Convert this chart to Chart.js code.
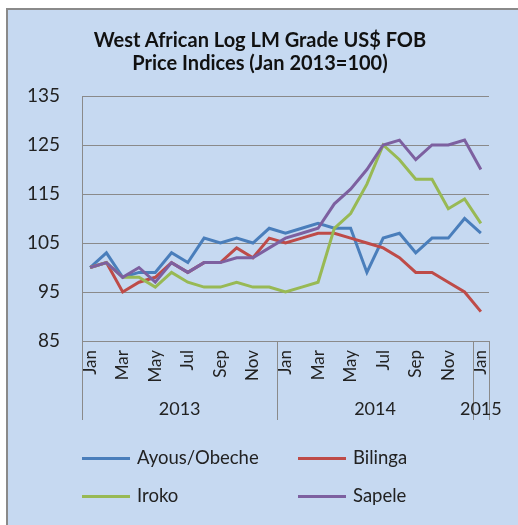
<!DOCTYPE html>
<html>
<head>
<meta charset="utf-8">
<script src="https://cdn.jsdelivr.net/npm/chart.js@4.4.1/dist/chart.umd.min.js"></script>
<style>
  html, body { margin: 0; padding: 0; background: #fff; }
  #frame {
    position: absolute; left: 6px; top: 8px; width: 512px; height: 517px;
    background: #c6d9f1; border-left: 2px solid #8a8a8a; border-top: 2px solid #8a8a8a;
    box-sizing: border-box;
  }
  #wrap { position: absolute; left: 0; top: 0; width: 518px; height: 525px; }
  #title {
    position: absolute; left: 40px; width: 440px; top: 28px; text-align: center;
    font: bold 20px Lato, sans-serif; line-height: 23px; color: #111;
  }
  .leg { position: absolute; font: 18.5px Lato, sans-serif; color: #222; }
  .leg span { position: absolute; top: 10px; width: 48px; height: 3px; }
  .leg b { position: absolute; left: 55px; top: -1px; font-weight: normal; white-space: nowrap; }
</style>
</head>
<body>
<div id="frame"></div>
<div id="wrap"><canvas id="price-index-chart" width="518" height="525"></canvas></div>
<div id="title">West African Log LM Grade US$ FOB<br>Price Indices (Jan 2013=100)</div>
<div id="legend"></div>
<script>
'use strict';

const months = ['Jan', 'Feb', 'Mar', 'Apr', 'May', 'Jun', 'Jul', 'Aug', 'Sep', 'Oct', 'Nov', 'Dec',
  'Jan', 'Feb', 'Mar', 'Apr', 'May', 'Jun', 'Jul', 'Aug', 'Sep', 'Oct', 'Nov', 'Dec', 'Jan'];
const years = [
  { label: '2013', from: 0, to: 11 },
  { label: '2014', from: 12, to: 23 },
  { label: '2015', from: 24, to: 24 },
];
const yTicks = [85, 95, 105, 115, 125, 135];

const ayous = [100, 103, 98, 99, 99, 103, 101, 106, 105, 106, 105, 108, 107, 108, 109, 108, 108, 99, 106, 107, 103, 106, 106, 110, 107];
const bilinga = [100, 101, 95, 97, 98, 101, 99, 101, 101, 104, 102, 106, 105, 106, 107, 107, 106, 105, 104, 102, 99, 99, 97, 95, 91];
const iroko = [100, 101, 98, 98, 96, 99, 97, 96, 96, 97, 96, 96, 95, 96, 97, 108, 111, 117, 125, 122, 118, 118, 112, 114, 109];
const sapele = [100, 101, 98, 100, 97, 101, 99, 101, 101, 102, 102, 104, 106, 107, 108, 113, 116, 120, 125, 126, 122, 125, 125, 126, 120];

const seriesNames = ['Ayous/Obeche', 'Bilinga', 'Iroko', 'Sapele'];
const seriesColors = ['#4a7ebb', '#be4b48', '#98b954', '#7d60a0'];

// ------- Legend (2 x 2, drawn as html) ------- //
const legendSpots = [[82, 447], [298, 447], [82, 485], [298, 485]];
const legendEl = document.getElementById('legend');
seriesNames.forEach((name, i) => {
  const item = document.createElement('div');
  item.className = 'leg';
  item.style.left = legendSpots[i][0] + 'px';
  item.style.top = legendSpots[i][1] + 'px';
  item.innerHTML = '<span style="background:' + seriesColors[i] + '"></span><b>' + name + '</b>';
  legendEl.appendChild(item);
});

// ------- Year row under the month labels ------- //
const yearAxisPlugin = {
  id: 'yearAxis',
  afterDraw(chart) {
    const ctx = chart.ctx;
    const x = chart.scales.x;
    const area = chart.chartArea;
    const half = (x.getPixelForValue(1) - x.getPixelForValue(0)) / 2;
    const lineBottom = area.bottom + 79;
    ctx.save();
    ctx.strokeStyle = '#8a8a8a';
    ctx.lineWidth = 1;
    ctx.fillStyle = '#222';
    ctx.font = '18px Lato, sans-serif';
    ctx.textAlign = 'center';
    ctx.textBaseline = 'middle';
    const edges = [area.left];
    years.forEach((y) => edges.push(x.getPixelForValue(y.to) + half));
    edges.forEach((e) => {
      const px = Math.round(e) + 0.5;
      ctx.beginPath();
      ctx.moveTo(px, area.bottom);
      ctx.lineTo(px, lineBottom);
      ctx.stroke();
    });
    years.forEach((y) => {
      const left = x.getPixelForValue(y.from) - half;
      const right = x.getPixelForValue(y.to) + half;
      ctx.fillText(y.label, (left + right) / 2, area.bottom + 68);
    });
    ctx.restore();
  },
};

const makeSet = (i, data) => ({
  label: seriesNames[i],
  data: data,
  borderColor: seriesColors[i],
  backgroundColor: seriesColors[i],
  borderWidth: 3,
  pointRadius: 0,
  tension: 0,
  order: 4 - i,
});

new Chart(document.getElementById('price-index-chart'), {
  type: 'line',
  data: {
    labels: months,
    datasets: [makeSet(0, ayous), makeSet(1, bilinga), makeSet(2, iroko), makeSet(3, sapele)],
  },
  plugins: [yearAxisPlugin],
  options: {
    responsive: false,
    animation: false,
    layout: { padding: { left: 0, right: 29, top: 96, bottom: 124 } },
    plugins: {
      legend: { display: false },
      title: { display: false },
      tooltip: { enabled: false },
    },
    scales: {
      x: {
        offset: true,
        grid: { display: false, drawTicks: false },
        border: { display: true, color: '#8a8a8a', width: 1 },
        afterFit: (scale) => { scale.height = 60; },
        ticks: {
          autoSkip: false,
          minRotation: 90,
          maxRotation: 90,
          padding: 9,
          color: '#222',
          font: { family: 'Lato', size: 17 },
          callback: (value, index) => (index % 2 === 0 ? months[index] : ''),
        },
      },
      y: {
        min: 85,
        max: 135,
        afterFit: (scale) => { scale.width = 82; },
        afterBuildTicks: (scale) => { scale.ticks = yTicks.map((v) => ({ value: v })); },
        grid: { color: '#8a8a8a', lineWidth: 1, drawTicks: false },
        border: { display: true, color: '#8a8a8a', width: 1 },
        ticks: {
          padding: 22,
          color: '#222',
          font: { family: 'Lato', size: 19 },
        },
      },
    },
  },
});
</script>
</body>
</html>
